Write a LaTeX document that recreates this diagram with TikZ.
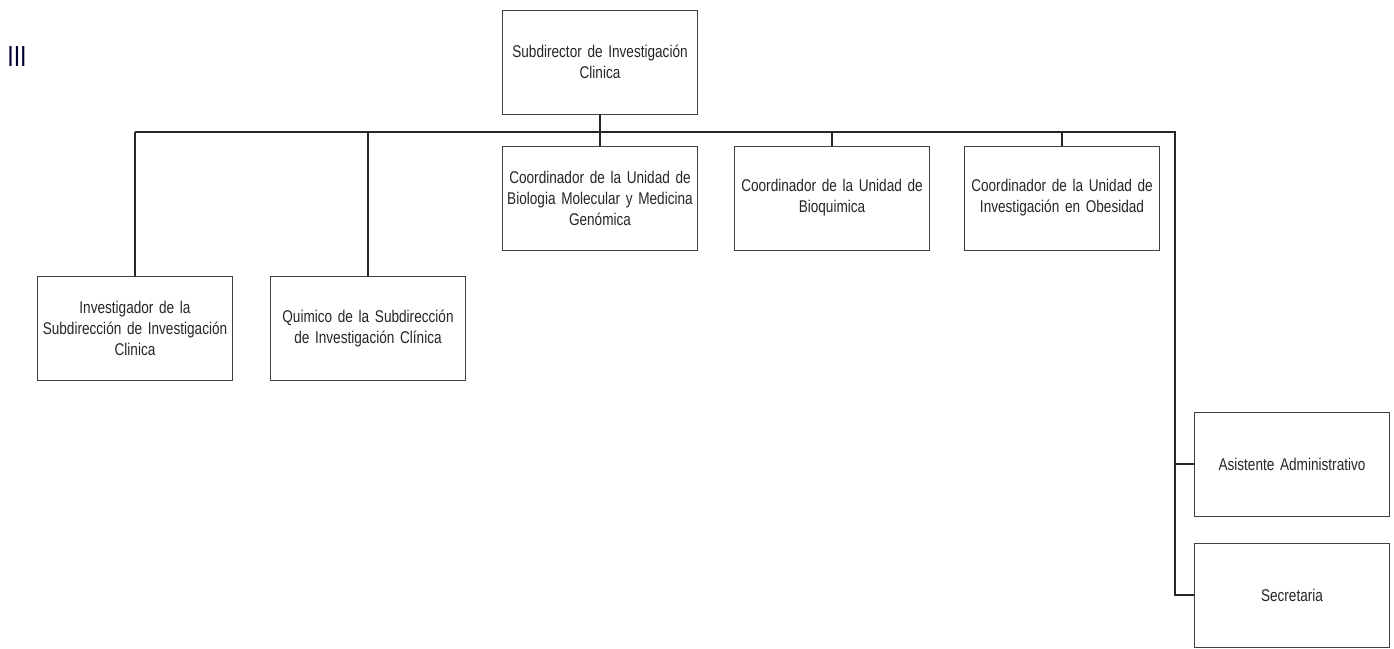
\documentclass[tikz,border=0pt]{standalone}
\usepackage{fontspec}
\usepackage{tikz}
\newfontfamily\orgfont{Liberation Sans}[FakeStretch=0.8]

\begin{document}
\begin{tikzpicture}[x=1pt,y=-1pt,
  box/.style={draw=black!75,line width=0.9pt,minimum width=195pt,minimum height=104pt,
    text width=188pt,inner sep=2pt,align=center,text=black!85,
    font=\orgfont\fontsize{17}{21}\selectfont},
  lnk/.style={draw=black!85,line width=1.2pt}]
\useasboundingbox (0,0) rectangle (1394,648);
\node[font=\orgfont\fontsize{29}{29}\selectfont,text=black!80!blue] (mark) at (17,57) {III};
\node[box] (sub) at (600,62) {Subdirector de Investigación\\Clinica};
\foreach \n/\x/\t in %
{cA/600/{Coordinador de la Unidad de\\Biologia Molecular y Medicina\\Genómica},
 cB/832/{Coordinador de la Unidad de\\Bioquimica},
 cC/1062/{Coordinador de la Unidad de\\Investigación en Obesidad}} {
   \node[box] (\n) at (\x,198) {\t};
}
\node[box] (inv) at (135,328) {Investigador de la\\Subdirección de Investigación\\Clinica};
\node[box] (quim) at (368,328) {Quimico de la Subdirección\\de Investigación Clínica};
\node[box] (asis) at (1292,464) {Asistente Administrativo};
\node[box] (sec) at (1292,595) {Secretaria};
\coordinate (busL) at (135,132);
\coordinate (busR) at (1175,132);
\draw[lnk] (busL) -- (busR) |- (sec.west);
\draw[lnk] (busR |- asis.west) -- (asis.west);
\draw[lnk] (sub.south) -- (cA.north);
\foreach \n in {cB,cC,inv,quim}
   \draw[lnk] (\n.north) -- (\n.north |- busL);
\end{tikzpicture}
\end{document}
